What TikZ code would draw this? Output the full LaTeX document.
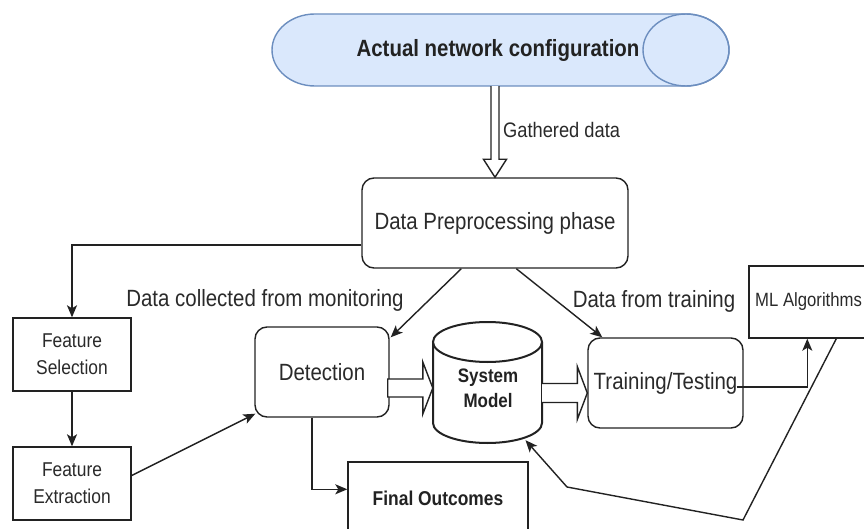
\documentclass[tikz,border=0pt]{standalone}
\usepackage{fontspec}
\setmainfont{Liberation Sans}[FakeStretch=0.87]
\usetikzlibrary{calc,arrows.meta}
\definecolor{ink}{HTML}{222222}
\definecolor{txt}{HTML}{2A2A2A}
\definecolor{netfill}{HTML}{DAE8FC}
\definecolor{netline}{HTML}{6C8EBF}
\tikzset{
  box/.style={draw=ink, line width=1.4pt, fill=white, inner sep=0pt, text=txt, align=center},
  rbox/.style={box, rounded corners=12pt},
  big/.style={font=\fontsize{23.5}{27}\selectfont},
  mid/.style={font=\fontsize{20}{27}\selectfont},
  arr/.style={draw=ink, line width=1.4pt, -{Stealth[length=12pt,width=10pt,inset=3pt]}},
  hollow/.style={draw=ink, line width=1.4pt, fill=white, line join=miter},
  lbl/.style={inner sep=0pt, text=txt}
}
\begin{document}
\begin{tikzpicture}[x=1pt,y=-1pt]
\useasboundingbox (0,0) rectangle (864,529);
\fill[white] (0,0) rectangle (864,529);

% network configuration: horizontal cylinder
\node[minimum width=458pt, minimum height=72pt, inner sep=0pt] (net) at (501,50) {};
\filldraw[fill=netfill, draw=netline, line width=1.4pt]
  (686,14) -- (315,14) arc[start angle=270, end angle=90, x radius=43, y radius=36]
  -- (686,86) arc[start angle=90, end angle=-90, x radius=43, y radius=36] -- cycle;
\draw[netline, line width=1.4pt] (686,50) ellipse[x radius=43, y radius=36];
\node[lbl, font=\bfseries\fontsize{23.5}{27}\selectfont, text=ink] at (498,50) {Actual network configuration};

% process boxes
\node[rbox, big, minimum width=266pt, minimum height=90pt] (pre) at (495,223) {Data Preprocessing phase};
\node[rbox, big, minimum width=134pt, minimum height=90pt] (det) at (322,372) {Detection};
\node[rbox, big, minimum width=155pt, minimum height=90pt] (trn) at (665.5,383) {Training/Testing};
\node[box, mid, minimum width=118pt, minimum height=73pt] (fs) at (72,354.5) {Feature\\Selection};
\node[box, mid, minimum width=118pt, minimum height=73pt] (fe) at (72,483.5) {Feature\\Extraction};
\node[box, minimum width=126pt, minimum height=72pt] (ml) at (812,302) {};
\node[lbl, anchor=west, font=\fontsize{19.2}{24}\selectfont] at (755,302) {ML Algorithms};
\node[box, font=\bfseries\fontsize{20}{24}\selectfont, text=ink, minimum width=180pt, minimum height=72pt] (fo) at (438,498) {Final Outcomes};

% system model: vertical cylinder
\node[minimum width=109pt, minimum height=121pt, inner sep=0pt] (sys) at (487.5,382.5) {};
\fill[white] (433,342) rectangle (542,423);
\fill[white] (487.5,423) ellipse[x radius=54.5, y radius=20];
\draw[ink, line width=2pt] (433,342) -- (433,423)
  arc[start angle=180, end angle=0, x radius=54.5, y radius=20] -- (542,342);
\draw[ink, line width=2pt, fill=white] (487.5,342) ellipse[x radius=54.5, y radius=20];
\node[lbl, align=center, font=\bfseries\fontsize{19.5}{25}\selectfont, text=ink] at (488,388) {System\\Model};

% gathered data: hollow arrow
\draw[hollow] ($(net.south -| pre.north)+(-4,0)$) -- ($(pre.north)+(-4,-18)$) -- ($(pre.north)+(-11.5,-18)$)
  -- (pre.north) -- ($(pre.north)+(11.5,-18)$) -- ($(pre.north)+(4,-18)$) -- ($(net.south -| pre.north)+(4,0)$);
\node[lbl, anchor=west, font=\fontsize{21}{24}\selectfont] at (503,130) {Gathered data};

% block arrows into and out of the system model
\coordinate (t1) at ($(sys.west)+(0,5.5)$);
\draw[hollow] ($(det.east |- t1)+(-2,-9)$) -- ($(t1)+(-10,-9)$) -- ($(t1)+(-10,-26)$) -- (t1)
  -- ($(t1)+(-10,26)$) -- ($(t1)+(-10,9)$) -- ($(det.east |- t1)+(-2,9)$) -- cycle;
\coordinate (t2) at ($(trn.west)+(0,10)$);
\draw[hollow] ($(sys.east |- t2)+(0,-9.5)$) -- ($(t2)+(-10,-9.5)$) -- ($(t2)+(-10,-26.5)$) -- (t2)
  -- ($(t2)+(-10,26.5)$) -- ($(t2)+(-10,9.5)$) -- ($(sys.east |- t2)+(0,9.5)$);

% connectors
\draw[arr] ($(pre.west)+(0,22)$) -| (fs.north);
\draw[arr] (fs.south) -- (fe.north);
\draw[arr] ($(fe.east)+(0,-8)$) -- ($(det.south west)+(1,-4)$);
\draw[arr] ($(pre.south west)+(100,0)$) -- ($(det.north east)+(1,11)$);
\draw[arr] ($(pre.south west)+(155,0)$) -- ($(trn.north west)+(15,0)$);
\draw[arr] ($(det.south)+(-10,0)$) |- ($(fo.north west)+(0,28)$);
\draw[arr] ($(trn.east)+(-7,4)$) -| ($(ml.south west)+(59,0)$);
\coordinate (b1) at (743,520);
\coordinate (b2) at (567,487);
\draw[arr] ($(ml.south west)+(88,0)$) -- (b1) -- (b2) -- ($(sys.south)+(38,-3)$);

% edge labels
\node[lbl, big] at (265,300) {Data collected from monitoring};
\node[lbl, big] at (654,301) {Data from training};
\end{tikzpicture}
\end{document}
